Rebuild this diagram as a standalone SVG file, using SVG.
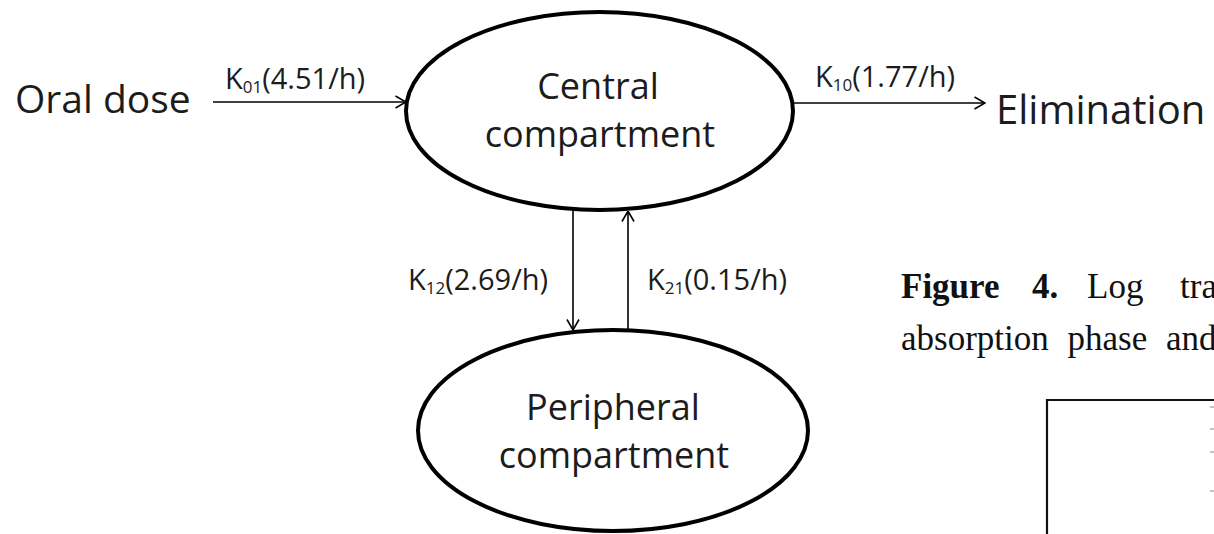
<svg xmlns="http://www.w3.org/2000/svg" width="1214" height="534" viewBox="0 0 1214 534">
<style>
.node{fill:#fff;stroke:#000;stroke-width:4}
.big{font-family:"Open Sans","Liberation Sans",sans-serif;fill:#1c1c1c}
.lbl{font-family:"Open Sans","Liberation Sans",sans-serif;font-size:29px;fill:#1c1c1c}
.sub{font-size:17px}
.conn{stroke:#000;stroke-width:1.6;fill:none;marker-end:url(#arr)}
.cap{font-family:"Liberation Serif","Times New Roman",serif;font-size:35px;fill:#111}
</style>
<defs>
<marker id="arr" viewBox="0 0 12 14" refX="11.5" refY="7" markerWidth="12" markerHeight="14" markerUnits="userSpaceOnUse" orient="auto">
<path d="M1,1 L11.5,7 L1,13" fill="none" stroke="#000" stroke-width="1.6"/>
</marker>
</defs>
<rect width="1214" height="534" fill="#fff"/>
<g id="connectors">
<line class="conn" x1="213" y1="102" x2="406" y2="102"/>
<line class="conn" x1="793" y1="103" x2="985" y2="103"/>
<line class="conn" x1="573" y1="210" x2="573" y2="330"/>
<line class="conn" x1="628" y1="331" x2="628" y2="211"/>
<text class="lbl" x="225" y="89">K<tspan class="sub" dy="4">01</tspan><tspan dy="-4">(4.51/h)</tspan></text>
<text class="lbl" x="815" y="87">K<tspan class="sub" dy="4">10</tspan><tspan dy="-4">(1.77/h)</tspan></text>
<text class="lbl" x="408" y="290">K<tspan class="sub" dy="4">12</tspan><tspan dy="-4">(2.69/h)</tspan></text>
<text class="lbl" x="647" y="290">K<tspan class="sub" dy="4">21</tspan><tspan dy="-4">(0.15/h)</tspan></text>
</g>
<g id="oral">
<text class="big" x="15" y="113" font-size="39">Oral dose</text>
</g>
<g id="elimination">
<text class="big" x="996" y="124" font-size="40">Elimination</text>
</g>
<g id="central">
<ellipse class="node" cx="599.5" cy="111" rx="193.5" ry="99"/>
<text class="big" font-size="36" text-anchor="middle" x="598" y="99">Central</text>
<text class="big" font-size="36" text-anchor="middle" x="600" y="147">compartment</text>
</g>
<g id="peripheral">
<ellipse class="node" cx="613" cy="430.5" rx="195" ry="100.5"/>
<text class="big" font-size="36" text-anchor="middle" x="613" y="420">Peripheral</text>
<text class="big" font-size="36" text-anchor="middle" x="614" y="468">compartment</text>
</g>
<g id="caption">
<text class="cap" y="298"><tspan x="901" font-weight="bold">Figure</tspan><tspan x="1032" font-weight="bold">4.</tspan><tspan x="1087">Log</tspan><tspan x="1180">tra</tspan></text>
<text class="cap" x="901" y="350" word-spacing="10">absorption phase and</text>
</g>
<g id="chart">
<path d="M1047,534 V400 H1214" fill="none" stroke="#111" stroke-width="2.2"/>
<path d="M1210,407 h4 M1210,429 h4 M1210,452 h4 M1210,491 h4" stroke="#888" stroke-width="1.2"/>
</g>
</svg>
